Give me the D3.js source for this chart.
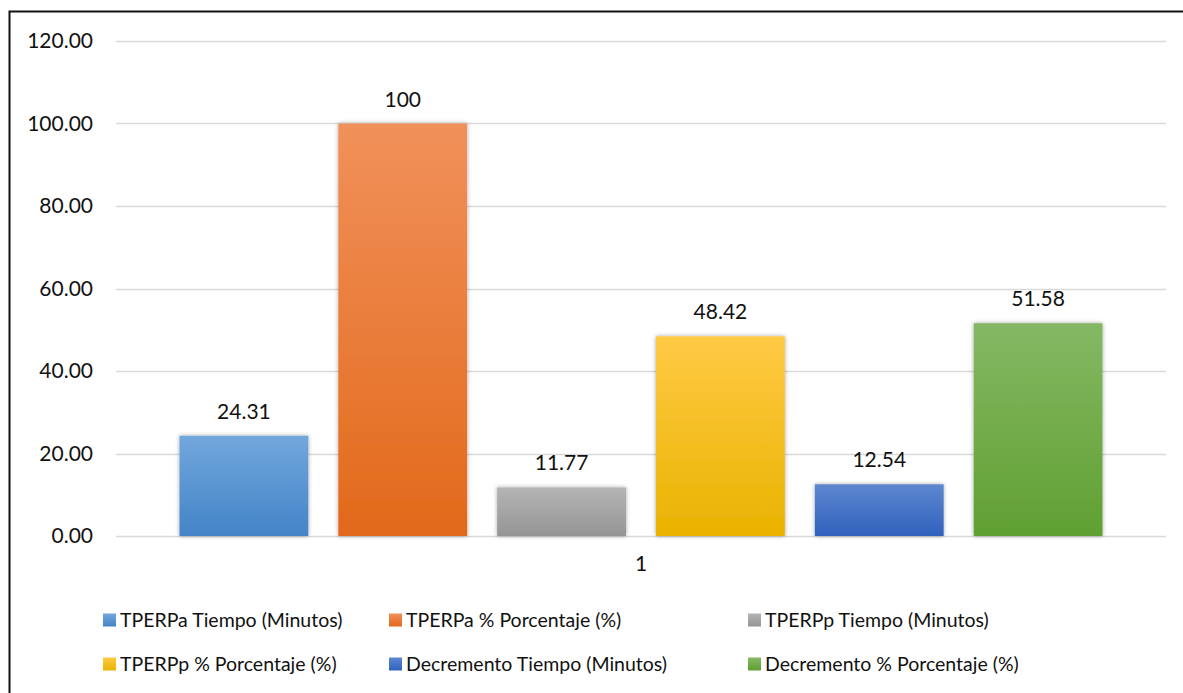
<!DOCTYPE html>
<html>
<head>
<meta charset="utf-8">
<script src="https://cdn.jsdelivr.net/npm/d3@7/dist/d3.min.js"></script>
<style>
  html, body { margin: 0; padding: 0; background: #fff; }
  svg text { font-family: Lato, "Open Sans", sans-serif; fill: #111; }
</style>
</head>
<body>
<svg id="chart" width="1183" height="693"></svg>
<script>
// Category on the x axis
const categories = ["1"];
// Series names (legend order)
const seriesNames = [
  "TPERPa Tiempo (Minutos)",
  "TPERPa % Porcentaje (%)",
  "TPERPp Tiempo (Minutos)",
  "TPERPp % Porcentaje (%)",
  "Decremento Tiempo (Minutos)",
  "Decremento % Porcentaje (%)"
];
// Values for category "1"
const seriesValues = [24.31, 100, 11.77, 48.42, 12.54, 51.58];
// Data label text as shown on each bar
const valueLabels = ["24.31", "100", "11.77", "48.42", "12.54", "51.58"];
// Y axis ticks
const yTicks = [0, 20, 40, 60, 80, 100, 120];
// Gradient colours per series: [top, bottom]
const seriesColors = [
  ["#72a7dc", "#4384c7"],
  ["#f1915b", "#e2691a"],
  ["#b4b4b4", "#959595"],
  ["#ffca45", "#e9b300"],
  ["#5e87cf", "#2f61bd"],
  ["#85b864", "#60a032"]
];

const svg = d3.select("#chart");
const margin = { left: 116, right: 17, top: 41, bottom: 157 };
const W = 1183, H = 693;

// Chart frame
svg.append("rect")
  .attr("x", 9.5).attr("y", 11.5)
  .attr("width", 1200).attr("height", 700)
  .attr("fill", "#fff").attr("stroke", "#111").attr("stroke-width", 2);

const defs = svg.append("defs");
seriesColors.forEach((c, i) => {
  const g = defs.append("linearGradient")
    .attr("id", "grad" + i).attr("x1", 0).attr("y1", 0).attr("x2", 0).attr("y2", 1);
  g.append("stop").attr("offset", "0%").attr("stop-color", c[0]);
  g.append("stop").attr("offset", "100%").attr("stop-color", c[1]);
});
const shadow = defs.append("filter").attr("id", "shadow")
  .attr("x", "-20%").attr("y", "-20%").attr("width", "140%").attr("height", "140%");
shadow.append("feDropShadow")
  .attr("dx", 0).attr("dy", 0).attr("stdDeviation", 2.2)
  .attr("flood-color", "#000").attr("flood-opacity", 0.35);

const x0 = d3.scaleBand()
  .domain(categories)
  .range([margin.left, W - margin.right])
  .paddingOuter(0.0688).paddingInner(0);
const x1 = d3.scaleBand()
  .domain(d3.range(seriesValues.length))
  .range([0, x0.bandwidth()])
  .paddingInner(0.189).paddingOuter(0);

const y = d3.scaleLinear()
  .domain([0, 120])
  .range([H - margin.bottom, margin.top]);

// Gridlines
svg.append("g")
  .selectAll("line")
  .data(yTicks)
  .join("line")
  .attr("x1", margin.left).attr("x2", W - margin.right)
  .attr("y1", d => Math.round(y(d)) + 0.5).attr("y2", d => Math.round(y(d)) + 0.5)
  .attr("stroke", "#d9d9d9").attr("stroke-width", 1.5);

// Y axis labels
const yAxis = d3.axisLeft(y).tickValues(yTicks).tickFormat(d3.format(".2f")).tickSize(0).tickPadding(0);
const yg = svg.append("g").attr("transform", `translate(93,0)`).call(yAxis);
yg.select(".domain").remove();
yg.selectAll("text").style("font-size", "21px").attr("fill", "#111");

// Bars
const gBars = svg.append("g").attr("transform", `translate(${x0(categories[0])},0)`);
gBars.selectAll("rect")
  .data(seriesValues)
  .join("rect")
  .attr("x", (d, i) => x1(i))
  .attr("y", d => y(d))
  .attr("width", x1.bandwidth())
  .attr("height", d => y(0) - y(d))
  .attr("fill", (d, i) => `url(#grad${i})`)
  .attr("filter", "url(#shadow)");

// Data labels
gBars.selectAll("text")
  .data(seriesValues)
  .join("text")
  .attr("x", (d, i) => x1(i) + x1.bandwidth() / 2)
  .attr("y", d => y(d) - 17)
  .attr("text-anchor", "middle")
  .style("font-size", "21px")
  .text((d, i) => valueLabels[i]);

// Category axis label
const xAxis = d3.axisBottom(x0).tickSize(0).tickPadding(0);
const xg = svg.append("g").attr("transform", `translate(0,${y(0) + 20})`).call(xAxis);
xg.select(".domain").remove();
xg.selectAll("text").style("font-size", "21px").attr("fill", "#111").attr("dy", "0.71em");

// Legend: three columns, two rows
const legendCols = [103, 389, 748];
const legendRows = [620, 664];
const lg = svg.append("g");
seriesNames.forEach((name, i) => {
  const cx = legendCols[i % 3], cy = legendRows[Math.floor(i / 3)];
  lg.append("rect")
    .attr("x", cx).attr("y", cy - 6.5).attr("width", 13).attr("height", 13)
    .attr("fill", `url(#grad${i})`);
  lg.append("text")
    .attr("x", cx + 17).attr("y", cy).attr("dy", "0.35em")
    .style("font-size", "19.5px")
    .text(name);
});
</script>
</body>
</html>
